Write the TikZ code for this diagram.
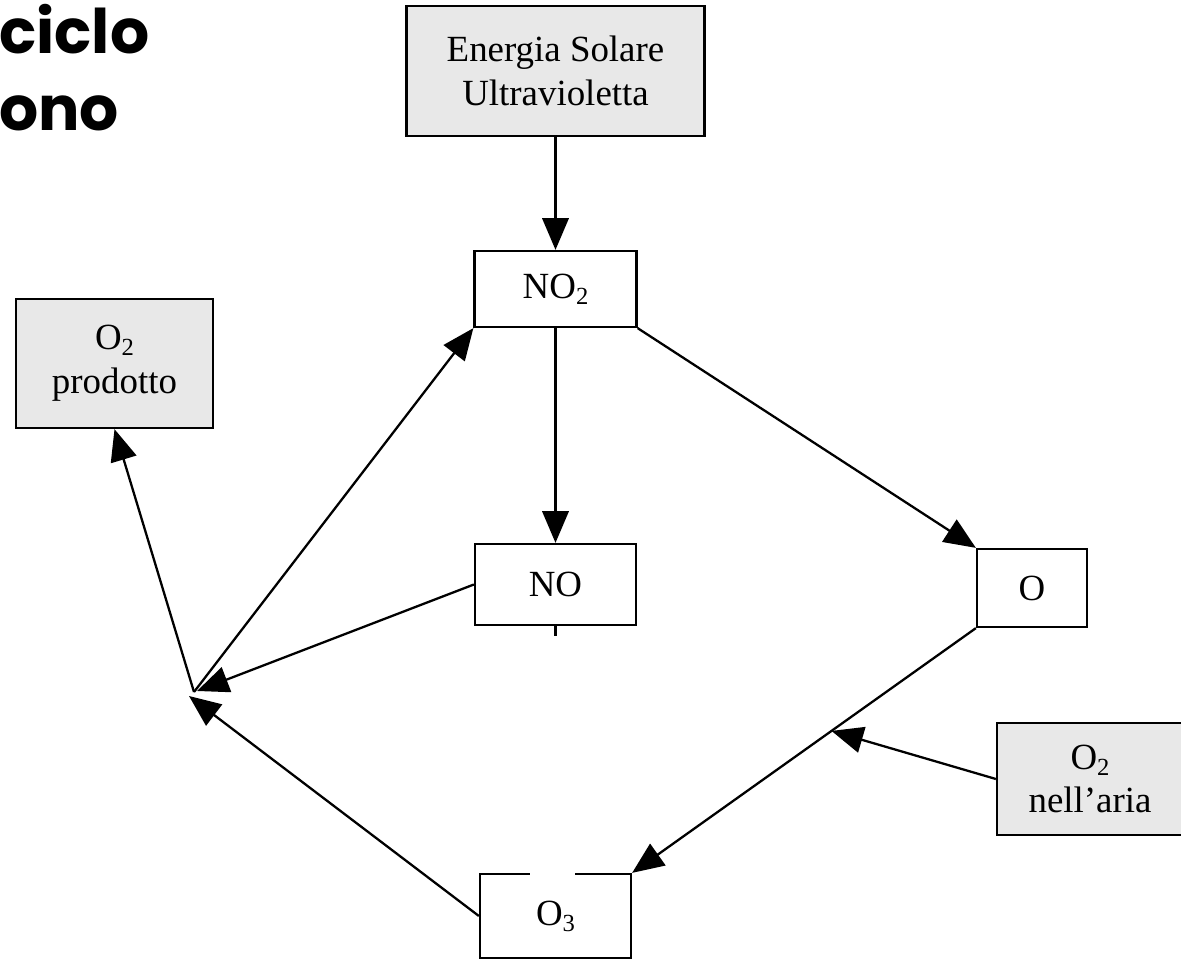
\documentclass[tikz,border=0pt]{standalone}
\usepackage{fontspec}
\setmainfont{Liberation Serif}
\newfontfamily\titlefont{Poppins}
\usetikzlibrary{arrows.meta,calc,positioning}
\definecolor{boxgrey}{RGB}{232,232,232}
\newcommand{\chsub}[1]{\raisebox{-0.35ex}{\fontsize{14}{14}\selectfont #1}}

\begin{document}
\begin{tikzpicture}[x=0.02cm,y=-0.02cm,font=\fontsize{21}{25}\selectfont,inner sep=0pt,
  box/.style={draw,line width=1.3pt,align=center},
  greybox/.style={box,fill=boxgrey},
  title/.style={anchor=base west,font=\titlefont\bfseries\fontsize{35}{35}\selectfont},
  arr/.style={line width=1.3pt,-{Triangle[length=18pt,width=15pt]}}]
  \useasboundingbox (0,0) rectangle (1181,959);
  \node[title] (t1) at (-1,54) {ciclo};
  \node[title] (t2) at (-1,131) {ono};
  \node[greybox,minimum width=5.96cm,minimum height=2.6cm] (sun) at (555.5,71) {Energia Solare\\Ultravioletta};
  \node[box,minimum width=3.24cm,minimum height=1.52cm] (no2) at (555.5,289) {NO\chsub{2}};
  \node[greybox,minimum width=3.94cm,minimum height=2.58cm] (o2p) at (114.5,363.5) {O\chsub{2}\\prodotto};
  \node[box,minimum width=3.22cm,minimum height=1.62cm] (no) at (555.5,584.5) {NO};
  \node[box,minimum width=2.2cm,minimum height=1.56cm] (o) at (1032,588) {O};
  \node[greybox,minimum width=3.72cm,minimum height=2.24cm] (o2a) at (1090,779) {O\chsub{2}\\nell'aria};
  \node[box,minimum width=3.02cm,minimum height=1.68cm] (o3) at (555.5,916) {O\chsub{3}};
  \coordinate (hub) at (194,692);
  \coordinate (nostub) at (555.5,636);
  % gap in the top edge of O3
  \draw[white,line width=2.2pt] (530,874) -- (575,874);
  \draw[arr] (sun.south) -- (no2.north);
  \draw[arr] (no2.south) -- (no.north);
  \draw[line width=1.3pt] (no.south) -- (nostub);
  \draw[arr] (no2.south east) -- (o.north west);
  \draw[arr] (o.south west) -- (o3.north east) coordinate[pos=0.42] (omid);
  \draw[arr] (o2a.west) -- (omid);
  \draw[arr] (no.west) -- ($(hub)+(3,-1)$);
  \draw[arr] (o3.west) -- ($(hub)+(-5,4)$);
  \draw[arr] (hub) -- (no2.south west);
  \draw[arr] (hub) -- (o2p.south);
\end{tikzpicture}
\end{document}
